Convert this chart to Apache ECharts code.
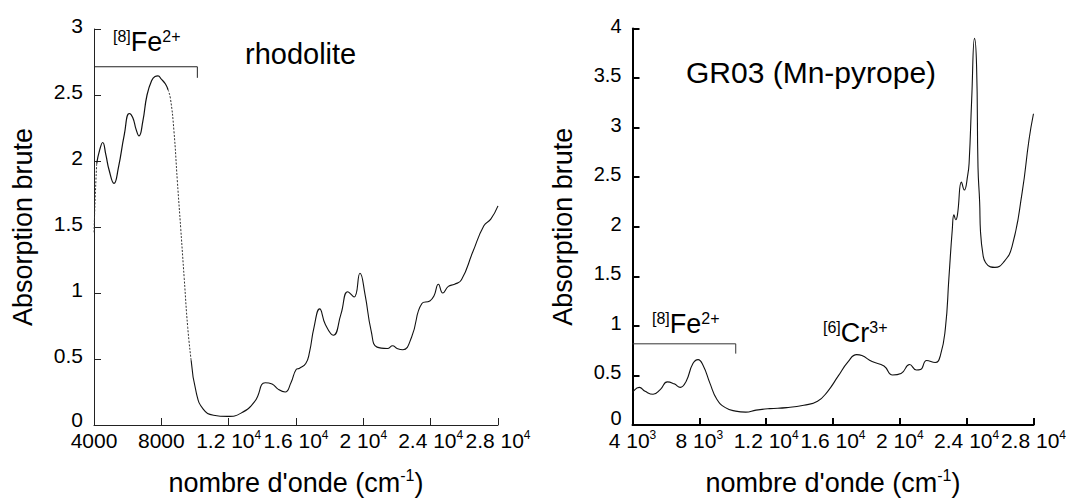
<!DOCTYPE html>
<html>
<head>
<meta charset="utf-8">
<script src="https://cdn.jsdelivr.net/npm/echarts@6/dist/echarts.min.js"></script>
<style>
  html, body { margin: 0; padding: 0; background: #ffffff; }
  #chart { width: 1069px; height: 501px; }
</style>
</head>
<body>
<div id="chart"></div>
<script>
// Wavenumber axis ticks (cm-1) and their printed labels ("^" marks the exponent)
const xTicks = [4000, 8000, 12000, 16000, 20000, 24000, 28000];
const rhodoliteXLabels = ['4000', '8000', '1.2 10^4', '1.6 10^4', '2 10^4', '2.4 10^4', '2.8 10^4'];
const gr03XLabels = ['4 10^3', '8 10^3', '1.2 10^4', '1.6 10^4', '2 10^4', '2.4 10^4', '2.8 10^4'];
const rhodoliteYLabels = ['0', '0.5', '1', '1.5', '2', '2.5', '3'];
const gr03YLabels = ['0', '0.5', '1', '1.5', '2', '2.5', '3', '3.5', '4'];

// Rhodolite spectrum: wavenumber (cm-1) and raw absorption
const rhodoliteWavenumber = [4000, 4080, 4160, 4330, 4517, 4700, 4900, 5188, 5450, 5800, 6097, 6300, 6500, 6674, 6900, 7150, 7428, 7624, 7800, 8000, 8236, 8400, 8545, 8748, 8950, 9157, 9360, 9567, 9770, 10078, 10488, 11100, 11920, 12735, 13555, 14170, 14577, 14950, 15355, 15700, 16010, 16210, 16580, 16800, 17070, 17405, 17750, 18220, 18670, 19080, 19450, 19800, 20100, 20470, 20815, 21430, 21740, 22000, 22350, 22865, 23480, 23950, 24200, 24460, 24720, 25050, 25420, 25830, 26500, 27160, 27570, 28000];
const rhodoliteAbsorption = [1.46, 1.75, 1.98, 2.08, 2.14, 2.05, 1.93, 1.83, 1.95, 2.2, 2.36, 2.33, 2.24, 2.19, 2.3, 2.5, 2.61, 2.64, 2.645, 2.62, 2.585, 2.54, 2.47, 2.23, 1.85, 1.48, 1.11, 0.74, 0.49, 0.243, 0.12, 0.074, 0.065, 0.09, 0.18, 0.32, 0.31, 0.27, 0.25, 0.32, 0.42, 0.43, 0.466, 0.55, 0.74, 0.88, 0.76, 0.68, 0.84, 1.01, 0.97, 1.15, 0.99, 0.71, 0.59, 0.58, 0.60, 0.58, 0.57, 0.665, 0.92, 0.94, 0.98, 1.066, 1.0, 1.05, 1.066, 1.10, 1.31, 1.51, 1.56, 1.66];

// GR03 (Mn-pyrope) spectrum
const gr03Wavenumber = [4000, 4040, 4410, 4755, 5230, 5675, 6085, 6494, 6862, 7207, 7616, 7925, 8228, 8638, 9047, 9558, 10170, 10780, 11395, 12212, 13234, 14255, 15075, 15686, 16298, 16910, 17420, 17729, 18341, 19054, 19564, 20075, 20585, 20995, 21240, 21608, 22118, 22426, 22730, 22937, 23140, 23240, 23350, 23450, 23690, 23858, 24065, 24150, 24303, 24470, 24595, 24680, 24778, 24830, 24985, 25130, 25420, 25690, 26200, 26715, 27325, 27735, 28000];
const gr03Absorption = [0.32, 0.34, 0.38, 0.34, 0.31, 0.36, 0.435, 0.415, 0.38, 0.44, 0.62, 0.66, 0.60, 0.42, 0.26, 0.175, 0.14, 0.13, 0.15, 0.165, 0.175, 0.20, 0.24, 0.34, 0.49, 0.64, 0.71, 0.70, 0.64, 0.595, 0.505, 0.52, 0.61, 0.555, 0.56, 0.65, 0.63, 0.70, 0.98, 1.48, 1.97, 2.12, 2.07, 2.12, 2.45, 2.37, 2.52, 2.65, 3.29, 3.90, 3.62, 2.6, 2.25, 1.95, 1.71, 1.64, 1.595, 1.59, 1.64, 1.80, 2.35, 2.88, 3.14];

// [8]Fe2+ band brackets (wavenumber, absorption)
const rhodoliteBracketX = [4000, 10140, 10140];
const rhodoliteBracketY = [2.714, 2.714, 2.63];
const gr03BracketX = [4000, 10180, 10180];
const gr03BracketY = [0.819, 0.819, 0.72];

const FONT = '"Liberation Sans", Arial, Helvetica, sans-serif';
const NARROW = '"Liberation Sans Narrow", "Liberation Sans", Arial, sans-serif';

function pairs(xs, ys, lo, hi) {
  const out = [];
  for (let i = 0; i < xs.length; i++) {
    if (xs[i] >= lo && xs[i] <= hi) out.push([xs[i], ys[i]]);
  }
  return out;
}

function expLabel(str) {
  const parts = str.split('^');
  return parts.length > 1 ? '{t|' + parts[0] + '}{s|' + parts[1] + '}' : '{t|' + parts[0] + '}';
}

const tickRich = {
  t: { fontSize: 21, lineHeight: 22, fontFamily: NARROW, color: '#000' },
  s: { fontSize: 12, lineHeight: 12, fontFamily: NARROW, color: '#000', verticalAlign: 'top' }
};
const nameRich = {
  t: { fontSize: 27, fontFamily: FONT, color: '#000' },
  s: { fontSize: 16, fontFamily: FONT, color: '#000', padding: [0, 0, 15, 0] }
};

function xAxisFor(gridIndex, labels, lineWidth, color) {
  return {
    type: 'value', gridIndex: gridIndex,
    min: 4000, max: 28000, interval: 4000,
    splitLine: { show: false },
    axisLine: { show: true, onZero: false, lineStyle: { color: color, width: lineWidth } },
    axisTick: { show: true, inside: true, length: 7, lineStyle: { color: color, width: lineWidth } },
    axisLabel: {
      margin: 4,
      formatter: function (v) { return expLabel(labels[xTicks.indexOf(v)]); },
      rich: tickRich
    },
    name: '{t|nombre d\'onde (cm}{s|-1}{t|)}',
    nameLocation: 'middle',
    nameGap: 42,
    nameTextStyle: { rich: nameRich }
  };
}

function yAxisFor(gridIndex, max, labels, lineWidth, color, fontSize, lift, zeroLift, nameGap) {
  return {
    type: 'value', gridIndex: gridIndex,
    min: 0, max: max, interval: 0.5,
    splitLine: { show: false },
    axisLine: { show: true, lineStyle: { color: color, width: lineWidth } },
    axisTick: { show: true, inside: true, length: 7, lineStyle: { color: color, width: lineWidth } },
    axisLabel: {
      margin: 11, color: '#000', fontSize: fontSize, fontFamily: FONT,
      // short line box sitting on the tick: the digits ride slightly above it
      verticalAlign: 'bottom', lineHeight: lift,
      formatter: function (v) {
        const txt = labels[Math.round(v / 0.5)];
        return v === 0 ? '{z|' + txt + '}' : txt;
      },
      rich: { z: { fontSize: fontSize, fontFamily: FONT, color: '#000', lineHeight: zeroLift } }
    },
    name: 'Absorption brute',
    nameLocation: 'middle',
    nameGap: nameGap,
    nameTextStyle: { fontSize: 27, fontFamily: FONT, color: '#000' }
  };
}

function spectrum(xi, yi, data, type, width, color) {
  return {
    type: 'line', xAxisIndex: xi, yAxisIndex: yi,
    data: data, showSymbol: false, symbol: 'none',
    smooth: 0.5,
    lineStyle: { color: color, width: width, type: type },
    silent: true, animation: false, z: 3
  };
}

function bracket(xi, yi, xs, ys, color) {
  return {
    type: 'line', xAxisIndex: xi, yAxisIndex: yi,
    data: pairs(xs, ys, -Infinity, Infinity),
    showSymbol: false, symbol: 'none', smooth: false,
    lineStyle: { color: color, width: 1 },
    silent: true, animation: false, z: 2
  };
}

function ionLabel(x, y, pre, main, post) {
  return {
    type: 'text', x: x, y: y, silent: true,
    style: {
      text: '{p|' + pre + '}{m|' + main + '}{p|' + post + '}',
      align: 'left', verticalAlign: 'middle',
      rich: {
        p: { fontSize: 16, fontFamily: FONT, fill: '#000', padding: [0, 0, 12, 0] },
        m: { fontSize: 27, fontFamily: FONT, fill: '#000' }
      }
    }
  };
}

const chart = echarts.init(document.getElementById('chart'), null, { renderer: 'svg' });

chart.setOption({
  backgroundColor: '#ffffff',
  animation: false,
  grid: [
    { left: 94, top: 29, width: 404, height: 404, containLabel: false },
    { left: 632.5, top: 28.5, width: 404, height: 404.5, containLabel: false }
  ],
  xAxis: [
    xAxisFor(0, rhodoliteXLabels, 1, '#222'),
    xAxisFor(1, gr03XLabels, 2, '#000')
  ],
  yAxis: [
    yAxisFor(0, 3, rhodoliteYLabels, 1, '#222', 21, 8, 12, 58),
    yAxisFor(1, 4, gr03YLabels, 2, '#000', 20, 6, 14, 56)
  ],
  series: [
    // rhodolite: noisy high-absorbance parts drawn dotted, the rest solid
    spectrum(0, 0, pairs(rhodoliteWavenumber, rhodoliteAbsorption, 4000, 4160), [2, 1.5], 1, '#333'),
    spectrum(0, 0, pairs(rhodoliteWavenumber, rhodoliteAbsorption, 4160, 8400), 'solid', 1.2, '#111'),
    spectrum(0, 0, pairs(rhodoliteWavenumber, rhodoliteAbsorption, 8400, 9900), [2, 1.5], 1, '#333'),
    spectrum(0, 0, pairs(rhodoliteWavenumber, rhodoliteAbsorption, 9770, 28000), 'solid', 1.1, '#111'),
    spectrum(1, 1, pairs(gr03Wavenumber, gr03Absorption, 4000, 28000), 'solid', 1.1, '#111'),
    bracket(0, 0, rhodoliteBracketX, rhodoliteBracketY, '#222'),
    bracket(1, 1, gr03BracketX, gr03BracketY, '#333')
  ],
  graphic: [
    { type: 'text', x: 245, y: 54, silent: true,
      style: { text: 'rhodolite', font: '29px ' + FONT, fill: '#000', align: 'left', verticalAlign: 'middle' } },
    { type: 'text', x: 686, y: 72, silent: true,
      style: { text: 'GR03 (Mn-pyrope)', font: '30px ' + FONT, fill: '#000', align: 'left', verticalAlign: 'middle' } },
    ionLabel(113, 42, '[8]', 'Fe', '2+'),
    ionLabel(652, 324, '[8]', 'Fe', '2+'),
    ionLabel(823, 333, '[6]', 'Cr', '3+')
  ]
});
</script>
</body>
</html>
